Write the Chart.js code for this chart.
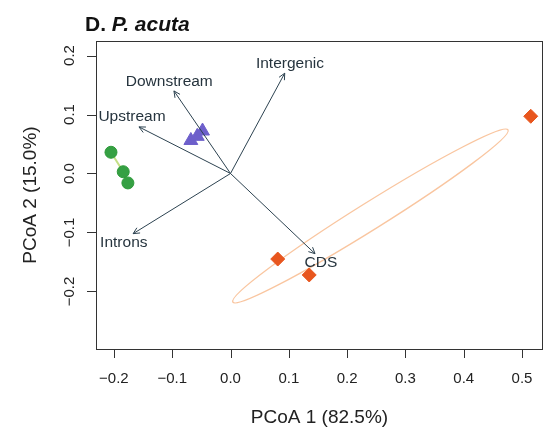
<!DOCTYPE html>
<html>
<head>
<meta charset="utf-8">
<script src="https://cdn.jsdelivr.net/npm/chart.js@4.4.1/dist/chart.umd.min.js"></script>
<style>
  html, body { margin: 0; padding: 0; background: #fff; }
  #wrap { width: 547px; height: 431px; position: relative; }
</style>
</head>
<body>
<div id="wrap"><canvas id="pcoa"></canvas></div>
<script>
(function () {
  "use strict";

  var FONT = '"Liberation Sans", Arial, Helvetica, sans-serif';

  // sample scores, three groups
  var greenX = [-0.205, -0.184, -0.176];
  var greenY = [0.036, 0.003, -0.016];
  var purpleX = [-0.068, -0.057, -0.048];
  var purpleY = [0.056, 0.063, 0.072];
  var orangeX = [0.081, 0.135, 0.515];
  var orangeY = [-0.145, -0.172, 0.097];

  // biplot vectors (tips) and label positions
  var vecNames = ["Intergenic", "Downstream", "Upstream", "Introns", "CDS"];
  var vecX = [0.093, -0.097, -0.157, -0.167, 0.145];
  var vecY = [0.170, 0.140, 0.079, -0.102, -0.136];
  var vecLabelX = [0.102, -0.105, -0.169, -0.183, 0.155];
  var vecLabelY = [0.186, 0.155, 0.096, -0.118, -0.152];

  // orange group ellipse: centre, end of major axis, end of minor axis
  var ellCenter = [0.240, -0.072];
  var ellMajor = [0.476, 0.074];
  var ellMinor = [0.252, -0.0915];

  var xTicks = [-0.2, -0.1, 0.0, 0.1, 0.2, 0.3, 0.4, 0.5];
  var yTicks = [-0.2, -0.1, 0.0, 0.1, 0.2];
  var xTitle = "PCoA 1 (82.5%)";
  var yTitle = "PCoA 2 (15.0%)";

  function pts(xs, ys) {
    return xs.map(function (x, i) { return { x: x, y: ys[i] }; });
  }

  function fmt(v) {
    var s = Math.abs(v).toFixed(1);
    return v < -1e-9 ? "\u2212" + s : s;
  }

  var decor = {
    id: "decor",
    beforeDatasetsDraw: function (chart) {
      var ctx = chart.ctx, xs = chart.scales.x, ys = chart.scales.y;
      var cx = xs.getPixelForValue(ellCenter[0]), cy = ys.getPixelForValue(ellCenter[1]);
      var mx = xs.getPixelForValue(ellMajor[0]), my = ys.getPixelForValue(ellMajor[1]);
      var nx = xs.getPixelForValue(ellMinor[0]), ny = ys.getPixelForValue(ellMinor[1]);
      var a = Math.hypot(mx - cx, my - cy), b = Math.hypot(nx - cx, ny - cy);
      var rot = Math.atan2(my - cy, mx - cx);
      ctx.save();
      ctx.strokeStyle = "rgba(244, 150, 80, 0.55)";
      ctx.lineWidth = 1.3;
      ctx.beginPath();
      ctx.ellipse(cx, cy, a, b, rot, 0, Math.PI * 2);
      ctx.stroke();
      ctx.restore();
    },
    afterDatasetsDraw: function (chart) {
      var ctx = chart.ctx, xs = chart.scales.x, ys = chart.scales.y;
      var ox = xs.getPixelForValue(0), oy = ys.getPixelForValue(0);
      ctx.save();
      ctx.strokeStyle = "#2c4250";
      ctx.lineWidth = 1;
      for (var i = 0; i < vecNames.length; i++) {
        var tx = xs.getPixelForValue(vecX[i]), ty = ys.getPixelForValue(vecY[i]);
        var ang = Math.atan2(ty - oy, tx - ox);
        ctx.beginPath();
        ctx.moveTo(ox, oy);
        ctx.lineTo(tx, ty);
        ctx.moveTo(tx - 7 * Math.cos(ang - 0.45), ty - 7 * Math.sin(ang - 0.45));
        ctx.lineTo(tx, ty);
        ctx.lineTo(tx - 7 * Math.cos(ang + 0.45), ty - 7 * Math.sin(ang + 0.45));
        ctx.stroke();
      }
      ctx.fillStyle = "#26343e";
      ctx.font = "15.5px " + FONT;
      ctx.textAlign = "center";
      ctx.textBaseline = "middle";
      for (var j = 0; j < vecNames.length; j++) {
        ctx.fillText(vecNames[j], xs.getPixelForValue(vecLabelX[j]), ys.getPixelForValue(vecLabelY[j]));
      }
      ctx.restore();
    },
    afterDraw: function (chart) {
      var ctx = chart.ctx, xs = chart.scales.x, ys = chart.scales.y, area = chart.chartArea;
      ctx.save();
      // plot box
      ctx.strokeStyle = "#333";
      ctx.lineWidth = 1;
      ctx.strokeRect(Math.round(area.left) + 0.5, Math.round(area.top) + 0.5,
        Math.round(area.right - area.left) - 1, Math.round(area.bottom - area.top));
      // ticks
      ctx.beginPath();
      xTicks.forEach(function (t) {
        var px = Math.round(xs.getPixelForValue(t)) + 0.5;
        ctx.moveTo(px, area.bottom + 1);
        ctx.lineTo(px, area.bottom + 9);
      });
      yTicks.forEach(function (t) {
        var py = Math.round(ys.getPixelForValue(t)) + 0.5;
        ctx.moveTo(area.left, py);
        ctx.lineTo(area.left - 9, py);
      });
      ctx.stroke();
      // tick labels
      ctx.fillStyle = "#222";
      ctx.font = "15px " + FONT;
      ctx.textAlign = "center";
      ctx.textBaseline = "middle";
      xTicks.forEach(function (t) {
        ctx.fillText(fmt(t), xs.getPixelForValue(t), 379);
      });
      yTicks.forEach(function (t) {
        ctx.save();
        ctx.translate(70, ys.getPixelForValue(t));
        ctx.rotate(-Math.PI / 2);
        ctx.fillText(fmt(t), 0, 0);
        ctx.restore();
      });
      // axis titles
      ctx.font = "19px " + FONT;
      ctx.fillText(xTitle, (area.left + area.right) / 2, 418);
      ctx.save();
      ctx.translate(31, (area.top + area.bottom) / 2);
      ctx.rotate(-Math.PI / 2);
      ctx.fillText(yTitle, 0, 0);
      ctx.restore();
      // panel title
      ctx.fillStyle = "#111";
      ctx.textAlign = "left";
      ctx.textBaseline = "alphabetic";
      ctx.font = "bold 21px " + FONT;
      ctx.fillText("D. ", 85, 31);
      var w = ctx.measureText("D. ").width;
      ctx.font = "italic bold 21px " + FONT;
      ctx.fillText("P. acuta", 85 + w, 31);
      ctx.restore();
    }
  };

  function init() {
    var ctx = document.getElementById("pcoa").getContext("2d");
    new Chart(ctx, {
      type: "scatter",
      data: {
        datasets: [
          {
            label: "green",
            data: pts(greenX, greenY),
            showLine: true,
            borderColor: "rgba(190, 220, 120, 0.9)",
            borderWidth: 2,
            pointStyle: "circle",
            pointRadius: 6,
            pointBackgroundColor: "#35a043",
            pointBorderColor: "#2e9a3a",
            pointBorderWidth: 1
          },
          {
            label: "purple",
            data: pts(purpleX, purpleY),
            showLine: true,
            borderColor: "rgba(200, 190, 240, 0.9)",
            borderWidth: 2,
            pointStyle: "triangle",
            pointRadius: 8,
            pointBackgroundColor: "#6d5fcb",
            pointBorderColor: "#6d5fcb",
            pointBorderWidth: 1
          },
          {
            label: "orange",
            data: pts(orangeX, orangeY),
            pointStyle: "rectRot",
            pointRadius: 7,
            pointBackgroundColor: "#e8561e",
            pointBorderColor: "#e8561e",
            pointBorderWidth: 1
          }
        ]
      },
      options: {
        responsive: false,
        animation: false,
        devicePixelRatio: 1,
        layout: { autoPadding: false, padding: { top: 41, left: 0, right: 4, bottom: 0 } },
        plugins: {
          legend: { display: false },
          tooltip: { enabled: false },
          title: { display: false }
        },
        scales: {
          x: {
            type: "linear",
            min: -0.2307,
            max: 0.536,
            grid: { display: false },
            border: { display: false },
            ticks: { display: false },
            afterFit: function (s) { s.height = 82; }
          },
          y: {
            type: "linear",
            min: -0.2975,
            max: 0.2246,
            grid: { display: false },
            border: { display: false },
            ticks: { display: false },
            afterFit: function (s) { s.width = 96; }
          }
        }
      },
      plugins: [decor]
    });
  }

  var c = document.getElementById("pcoa");
  c.width = 547;
  c.height = 431;
  init();
})();
</script>
</body>
</html>
